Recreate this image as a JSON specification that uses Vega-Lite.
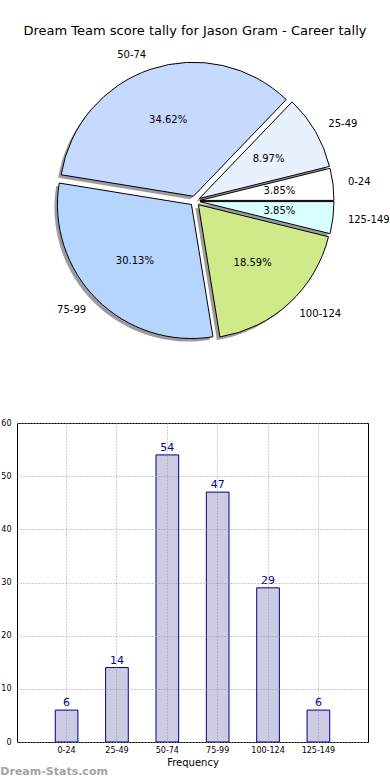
{
  "$schema": "https://vega.github.io/schema/vega-lite/v6.json",
  "padding": {"left": 0, "top": 24, "right": 0, "bottom": 0},
  "config": {
    "font": "DejaVu Sans",
    "view": {"stroke": "#000000", "strokeWidth": 1},
    "axis": {"labelColor": "#000000", "titleColor": "#000000", "labelFont": "DejaVu Sans", "titleFont": "DejaVu Sans"}
  },
  "title": {"text": "Dream-Stats.com", "orient": "bottom", "anchor": "start", "fontSize": 11, "fontWeight": "bold", "color": "#a3a3a3", "offset": -2},
  "datasets": {
    "tally": [
      {"range": "0-24", "idx": 0, "count": 6, "share": 0.0385},
      {"range": "25-49", "idx": 1, "count": 14, "share": 0.0897},
      {"range": "50-74", "idx": 2, "count": 54, "share": 0.3462},
      {"range": "75-99", "idx": 3, "count": 47, "share": 0.3013},
      {"range": "100-124", "idx": 4, "count": 29, "share": 0.1859},
      {"range": "125-149", "idx": 5, "count": 6, "share": 0.0385}
    ]
  },
  "spacing": 67,
  "vconcat": [
    {
      "width": 356,
      "height": 300,
      "view": {"stroke": null},
      "title": {"text": "Dream Team score tally for Jason Gram - Career tally", "fontSize": 13, "fontWeight": "normal", "anchor": "middle", "color": "#000000", "offset": 12},
      "data": {"name": "tally"},
      "transform": [{"joinaggregate": [{"op": "sum", "field": "count", "as": "total"}]}],
      "encoding": {
        "theta": {"field": "count", "type": "quantitative", "stack": true, "scale": {"range": [1.5707963, -4.712389]}},
        "order": {"field": "idx", "type": "quantitative"}
      },
      "layer": [
        {
          "mark": {"type": "arc", "radius": 134, "fill": "#3a3a42", "fillOpacity": 0.5, "strokeWidth": 0,
            "xOffset": {"expr": "-3+5*cos(PI*(datum.count_start+datum.count_end)/datum.total)"},
            "yOffset": {"expr": "3-5*sin(PI*(datum.count_start+datum.count_end)/datum.total)"}}
        },
        {
          "mark": {"type": "arc", "radius": 134, "stroke": "#000000", "strokeWidth": 1,
            "xOffset": {"expr": "5*cos(PI*(datum.count_start+datum.count_end)/datum.total)"},
            "yOffset": {"expr": "-5*sin(PI*(datum.count_start+datum.count_end)/datum.total)"}},
          "encoding": {
            "color": {"field": "range", "type": "nominal",
              "scale": {"domain": ["0-24", "25-49", "50-74", "75-99", "100-124", "125-149"],
                        "range": ["#ffffff", "#e9f0fe", "#c6d9fe", "#b5d5fe", "#d0ea8a", "#daffff"]},
              "legend": null}
          }
        },
        {
          "mark": {"type": "text", "radius": 149, "fontSize": 10, "baseline": "middle", "color": "#000000",
            "align": {"expr": "cos(PI*(datum.count_start+datum.count_end)/datum.total) > 0 ? 'left' : 'right'"},
            "dx": {"expr": "5*cos(PI*(datum.count_start+datum.count_end)/datum.total)"},
            "dy": {"expr": "-5*sin(PI*(datum.count_start+datum.count_end)/datum.total)"}},
          "encoding": {"text": {"field": "range", "type": "nominal"}}
        },
        {
          "mark": {"type": "text", "radius": 80, "fontSize": 10, "baseline": "middle", "align": "center", "color": "#000000",
            "dx": {"expr": "5*cos(PI*(datum.count_start+datum.count_end)/datum.total)"},
            "dy": {"expr": "-5*sin(PI*(datum.count_start+datum.count_end)/datum.total)"}},
          "encoding": {"text": {"field": "share", "type": "quantitative", "format": ".2%"}}
        }
      ]
    },
    {
      "width": 351,
      "height": 319,
      "data": {"name": "tally"},
      "encoding": {
        "x": {"field": "range", "type": "nominal", "sort": null,
          "scale": {"paddingInner": 0.55, "paddingOuter": 0.76},
          "axis": {"title": "Frequency", "titleFontSize": 10, "titleFontWeight": "normal", "titlePadding": 3,
            "labelAngle": 0, "labelFontSize": 8, "labelPadding": 4,
            "grid": true, "gridDash": [1, 2], "gridColor": "#9a9a9a", "gridWidth": 1, "bandPosition": 0.5,
            "domain": false, "ticks": false, "zindex": 1}},
        "y": {"field": "count", "type": "quantitative",
          "scale": {"domain": [0, 60], "nice": false},
          "axis": {"title": null, "values": [0, 10, 20, 30, 40, 50, 60], "labelFontSize": 8, "labelPadding": 6,
            "grid": true, "gridDash": [1, 2], "gridColor": "#9a9a9a", "gridWidth": 1,
            "domain": false, "ticks": false, "zindex": 1}}
      },
      "layer": [
        {"mark": {"type": "bar", "fill": "#cbcbe3", "stroke": "#00007f", "strokeWidth": 1}},
        {"mark": {"type": "text", "baseline": "bottom", "dy": -2, "fontSize": 11, "color": "#00008b"},
         "encoding": {"text": {"field": "count", "type": "quantitative"}}}
      ]
    }
  ]
}
